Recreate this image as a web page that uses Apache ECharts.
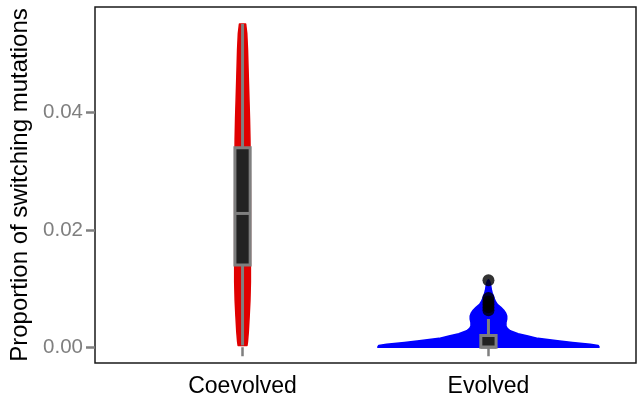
<!DOCTYPE html>
<html>
<head>
<meta charset="utf-8">
<script src="https://cdn.jsdelivr.net/npm/echarts@6/dist/echarts.min.js"></script>
<style>
  html, body { margin: 0; padding: 0; background: #fff; }
  #chart { width: 638px; height: 400px; }
</style>
</head>
<body>
<div id="chart"></div>
<script>
// Groups on the x axis
const categories = ['Coevolved', 'Evolved'];
const yTicks = [0, 0.02, 0.04];

// Kernel density outlines: [proportion, relative density]
const coevolvedDensity = [
  [0.0003, 0.040], [0.0010, 0.045], [0.0026, 0.052], [0.0053, 0.060],
  [0.0080, 0.067], [0.0111, 0.071], [0.0150, 0.071], [0.0200, 0.071],
  [0.0250, 0.071], [0.0300, 0.070], [0.0354, 0.067], [0.0390, 0.063],
  [0.0422, 0.058], [0.0460, 0.052], [0.0507, 0.045], [0.0535, 0.038],
  [0.0551, 0.028]
];
const evolvedDensity = [
  [0.0000, 1.000], [0.0003, 0.991], [0.0005, 0.920], [0.0008, 0.759],
  [0.0011, 0.625], [0.0015, 0.446], [0.0019, 0.357], [0.0023, 0.268],
  [0.0028, 0.196], [0.0032, 0.170], [0.0036, 0.158], [0.0042, 0.158],
  [0.0048, 0.165], [0.0053, 0.165], [0.0058, 0.156], [0.0063, 0.138],
  [0.0068, 0.112], [0.0073, 0.080], [0.0078, 0.063], [0.0082, 0.054],
  [0.0087, 0.045], [0.0092, 0.034], [0.0097, 0.027], [0.0103, 0.022],
  [0.0108, 0.018], [0.0113, 0.009], [0.0115, 0.000]
];

// Box summaries: [lower whisker, Q1, median, Q3, upper whisker]
const coevolvedBox = [0.0003, 0.0140, 0.0228, 0.0340, 0.0551];
const evolvedBox = [0.0000, 0.0000, 0.0000, 0.0020, 0.0048];

// Points beyond the whiskers
const evolvedOutliers = [0.0114, 0.0084, 0.0078, 0.0073, 0.0068, 0.0063];

const densities = [coevolvedDensity, evolvedDensity];
const boxes = [coevolvedBox, evolvedBox];
const fills = ['#e00000', '#0000ff'];
const VIOLIN_HALF = 0.45;   // half width (x units) at relative density 1
const BOX_HALF = 0.031;     // half width of the box (x units)
const GREY = '#7f7f7f';

function violinItem(params, api) {
  const pos = api.value(0);
  const prof = densities[pos - 1];
  const left = [], right = [];
  prof.forEach(function (p) {
    left.push(api.coord([pos - p[1] * VIOLIN_HALF, p[0]]));
    right.push(api.coord([pos + p[1] * VIOLIN_HALF, p[0]]));
  });
  const pts = left.concat(right.reverse());
  const c = fills[pos - 1];
  return {
    type: 'polygon',
    shape: { points: pts },
    style: { fill: c, stroke: c, lineWidth: 1.5, lineJoin: 'round' }
  };
}

function boxItem(params, api) {
  const pos = api.value(0);
  const b = boxes[pos - 1];
  const children = [];
  const lineStyle = { stroke: GREY, lineWidth: 3 };
  const cTop = api.coord([pos, b[4]]);
  const cQ3 = api.coord([pos, b[3]]);
  const cQ1 = api.coord([pos, b[1]]);
  const cLow = api.coord([pos, b[0]]);
  if (b[4] > b[3]) {
    children.push({ type: 'line', shape: { x1: cTop[0], y1: cTop[1], x2: cQ3[0], y2: cQ3[1] }, style: lineStyle });
  }
  if (b[1] > b[0]) {
    children.push({ type: 'line', shape: { x1: cQ1[0], y1: cQ1[1], x2: cLow[0], y2: cLow[1] }, style: lineStyle });
  }
  const tl = api.coord([pos - BOX_HALF, b[3]]);
  const br = api.coord([pos + BOX_HALF, b[1]]);
  children.push({
    type: 'rect',
    shape: { x: tl[0], y: tl[1], width: br[0] - tl[0], height: br[1] - tl[1] },
    style: { fill: '#222222', stroke: GREY, lineWidth: 3 }
  });
  const mL = api.coord([pos - BOX_HALF, b[2]]);
  const mR = api.coord([pos + BOX_HALF, b[2]]);
  children.push({
    type: 'line',
    shape: { x1: mL[0], y1: mL[1], x2: mR[0], y2: mR[1] },
    style: { stroke: GREY, lineWidth: 3 }
  });
  return { type: 'group', children: children };
}

const chart = echarts.init(document.getElementById('chart'), null, { renderer: 'canvas' });
chart.setOption({
  animation: false,
  backgroundColor: '#ffffff',
  textStyle: { fontFamily: 'Liberation Sans, Arial, sans-serif' },
  grid: {
    left: 95, right: 2, top: 7, bottom: 37,
    outerBoundsMode: 'none',
    show: true, borderColor: '#1a1a1a', borderWidth: 1.5, backgroundColor: 'transparent'
  },
  xAxis: {
    type: 'value', min: 0.4, max: 2.6,
    splitLine: { show: false },
    axisLine: { show: false },
    axisTick: { show: true, customValues: [1, 2], length: 9, lineStyle: { color: GREY, width: 2.5 } },
    axisLabel: {
      customValues: [1, 2], margin: 12,
      formatter: function (v) { return categories[Math.round(v) - 1]; },
      color: '#000', fontSize: 23, fontFamily: 'Liberation Sans'
    }
  },
  yAxis: {
    type: 'value', min: -0.0027, max: 0.058,
    name: 'Proportion of switching mutations',
    nameLocation: 'middle', nameGap: 57,
    nameTextStyle: { color: '#000', fontSize: 24, fontFamily: 'Liberation Sans' },
    splitLine: { show: false },
    axisLine: { show: false },
    axisTick: { show: true, customValues: yTicks, length: 9, lineStyle: { color: GREY, width: 2.5 } },
    axisLabel: {
      customValues: yTicks, margin: 12,
      formatter: function (v) { return v.toFixed(2); },
      color: GREY, fontSize: 20.5, fontFamily: 'Liberation Sans'
    }
  },
  series: [
    {
      type: 'custom', name: 'violin',
      renderItem: violinItem,
      encode: { x: 0, y: 1 },
      data: [[1, 0], [2, 0]],
      silent: true
    },
    {
      type: 'custom', name: 'box',
      renderItem: boxItem,
      encode: { x: 0, y: 1 },
      data: [[1, 0], [2, 0]],
      silent: true
    },
    {
      type: 'scatter', name: 'outliers',
      symbol: 'circle', symbolSize: 12,
      itemStyle: { color: '#000' },
      data: evolvedOutliers.map(function (v) { return [2, v]; }),
      silent: true
    }
  ]
});
</script>
</body>
</html>
